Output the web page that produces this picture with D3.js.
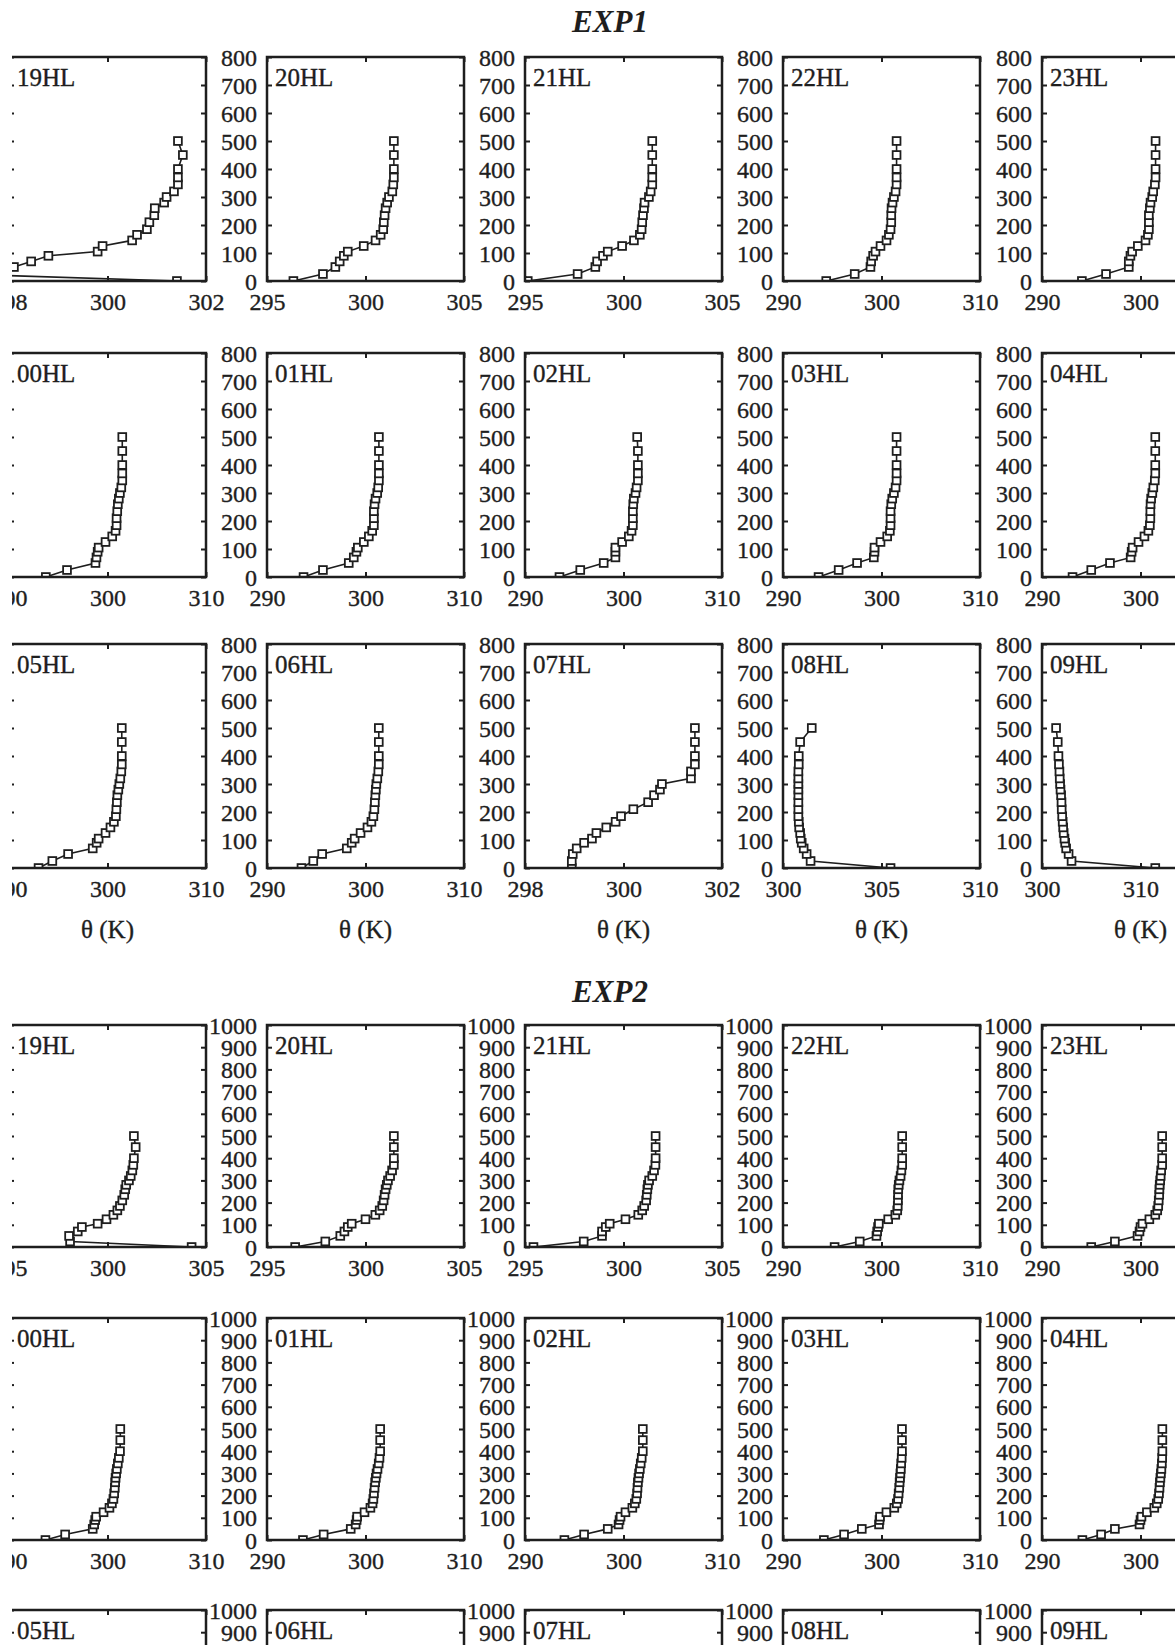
<!DOCTYPE html>
<html>
<head>
<meta charset="utf-8">
<script src="https://cdn.jsdelivr.net/npm/d3@7"></script>
<style>
  body { margin: 0; background: #fff; }
  svg text { font-family: "Liberation Serif", "Times New Roman", serif; fill: #1e1e1e; }
  svg text.lbl { stroke: #1e1e1e; stroke-width: 0.35px; }
</style>
</head>
<body>
<div id="chart"></div>
<script>
// heights (m) of the profile levels, shared by every panel
var levels = [0, 25, 50, 70, 90, 105, 125, 145, 165, 185, 210, 235, 260, 280, 300, 320, 345, 370, 400, 450, 500];

// EXP1 potential temperature profiles (K)
var e1_19HL = [301.41, 297.0, 298.1, 298.45, 298.8, 299.8, 299.9, 300.5, 300.6, 300.8, 300.85, 300.95, 300.96, 301.15, 301.2, 301.35, 301.43, 301.43, 301.43, 301.53, 301.43];
var e1_20HL = [296.34, 297.84, 298.47, 298.69, 298.9, 299.1, 299.91, 300.51, 300.77, 300.9, 300.93, 300.97, 301.02, 301.1, 301.19, 301.36, 301.41, 301.44, 301.44, 301.44, 301.44];
var e1_21HL = [295.14, 297.67, 298.57, 298.66, 298.96, 299.2, 299.93, 300.53, 300.83, 300.92, 300.95, 300.99, 301.04, 301.07, 301.29, 301.38, 301.46, 301.46, 301.46, 301.46, 301.46];
var e1_22HL = [294.39, 297.28, 298.88, 298.95, 299.15, 299.39, 299.9, 300.51, 300.75, 300.92, 300.99, 300.99, 301.02, 301.12, 301.26, 301.43, 301.53, 301.53, 301.53, 301.53, 301.53];
var e1_23HL = [294.05, 296.5, 298.81, 298.81, 298.98, 299.15, 299.73, 300.51, 300.75, 300.85, 300.85, 300.85, 300.95, 301.02, 301.19, 301.29, 301.46, 301.53, 301.53, 301.53, 301.53];
var e1_00HL = [293.74, 295.89, 298.78, 298.88, 299.0, 299.1, 299.8, 300.48, 300.82, 300.92, 300.92, 300.99, 301.05, 301.15, 301.26, 301.4, 301.5, 301.5, 301.5, 301.5, 301.5];
var e1_01HL = [293.71, 295.68, 298.3, 298.81, 299.08, 299.22, 299.83, 300.34, 300.68, 300.85, 300.85, 300.85, 300.92, 301.02, 301.19, 301.29, 301.36, 301.36, 301.36, 301.36, 301.36];
var e1_02HL = [293.5, 295.61, 297.99, 299.18, 299.18, 299.18, 299.86, 300.54, 300.82, 300.95, 300.95, 300.95, 300.99, 301.05, 301.22, 301.33, 301.46, 301.46, 301.46, 301.46, 301.39];
var e1_03HL = [293.61, 295.65, 297.52, 299.22, 299.29, 299.29, 299.9, 300.58, 300.85, 300.92, 300.92, 300.92, 300.99, 301.09, 301.26, 301.43, 301.53, 301.53, 301.53, 301.53, 301.53];
var e1_04HL = [293.1, 295.0, 296.9, 299.0, 299.1, 299.2, 299.8, 300.4, 300.8, 300.95, 301.0, 301.0, 301.02, 301.08, 301.2, 301.3, 301.45, 301.5, 301.5, 301.5, 301.5];
var e1_05HL = [293.0, 294.4, 296.0, 298.5, 298.9, 299.1, 299.8, 300.3, 300.65, 300.85, 300.9, 300.95, 301.0, 301.1, 301.2, 301.3, 301.4, 301.45, 301.45, 301.45, 301.45];
var e1_06HL = [293.5, 294.7, 295.6, 298.1, 298.6, 298.9, 299.5, 300.2, 300.6, 300.8, 300.9, 300.95, 301.0, 301.05, 301.1, 301.2, 301.3, 301.35, 301.35, 301.35, 301.35];
var e1_07HL = [298.95, 298.95, 298.97, 299.05, 299.2, 299.36, 299.45, 299.65, 299.84, 299.95, 300.2, 300.5, 300.62, 300.74, 300.78, 301.37, 301.37, 301.45, 301.45, 301.45, 301.45];
var e1_08HL = [305.46, 301.4, 301.2, 301.05, 300.95, 300.9, 300.87, 300.82, 300.8, 300.78, 300.78, 300.78, 300.78, 300.78, 300.78, 300.78, 300.78, 300.8, 300.8, 300.87, 301.46];
var e1_09HL = [311.5, 303.0, 302.7, 302.45, 302.35, 302.28, 302.2, 302.15, 302.1, 302.05, 302.0, 301.98, 301.94, 301.88, 301.84, 301.8, 301.77, 301.72, 301.67, 301.6, 301.43];

// EXP2 profiles (the last row is cut off by the page, no values are visible)
var e2_19HL = [304.27, 298.1, 298.05, 298.49, 298.7, 299.5, 299.95, 300.3, 300.5, 300.63, 300.75, 300.85, 300.9, 300.95, 301.09, 301.18, 301.26, 301.31, 301.34, 301.43, 301.34];
var e2_20HL = [296.43, 297.96, 298.72, 298.93, 299.1, 299.3, 300.0, 300.5, 300.72, 300.85, 300.92, 300.97, 301.02, 301.08, 301.14, 301.25, 301.35, 301.44, 301.44, 301.44, 301.44];
var e2_21HL = [295.43, 297.98, 298.91, 298.91, 299.1, 299.3, 300.1, 300.75, 300.95, 301.05, 301.15, 301.18, 301.21, 301.24, 301.3, 301.46, 301.55, 301.62, 301.63, 301.63, 301.63];
var e2_22HL = [295.24, 297.79, 299.49, 299.56, 299.65, 299.73, 300.68, 301.4, 301.6, 301.65, 301.67, 301.68, 301.7, 301.75, 301.82, 301.94, 302.02, 302.1, 302.1, 302.1, 302.1];
var e2_23HL = [295.0, 297.4, 299.7, 299.9, 300.0, 300.2, 300.9, 301.5, 301.7, 301.8, 301.85, 301.9, 301.92, 301.95, 302.0, 302.05, 302.1, 302.2, 302.2, 302.2, 302.2];
var e2_00HL = [293.7, 295.7, 298.5, 298.65, 298.75, 298.85, 299.6, 300.2, 300.45, 300.6, 300.68, 300.74, 300.78, 300.82, 300.88, 300.95, 301.05, 301.15, 301.27, 301.3, 301.3];
var e2_01HL = [293.65, 295.75, 298.5, 299.0, 299.1, 299.15, 299.9, 300.5, 300.72, 300.8, 300.86, 300.92, 300.98, 301.05, 301.12, 301.22, 301.34, 301.42, 301.49, 301.49, 301.49];
var e2_02HL = [294.0, 296.0, 298.4, 299.5, 299.6, 299.7, 300.2, 300.9, 301.15, 301.3, 301.38, 301.42, 301.46, 301.52, 301.58, 301.66, 301.75, 301.85, 301.96, 301.96, 301.96];
var e2_03HL = [294.15, 296.2, 298.0, 299.75, 299.8, 299.85, 300.5, 301.3, 301.55, 301.68, 301.74, 301.8, 301.84, 301.88, 301.92, 301.96, 302.0, 302.05, 302.08, 302.08, 302.08];
var e2_04HL = [294.1, 296.0, 297.4, 299.9, 300.0, 300.1, 300.65, 301.4, 301.65, 301.8, 301.88, 301.93, 301.97, 302.02, 302.07, 302.12, 302.17, 302.2, 302.22, 302.22, 302.22];

var hourNames = ["19HL", "20HL", "21HL", "22HL", "23HL",
                 "00HL", "01HL", "02HL", "03HL", "04HL",
                 "05HL", "06HL", "07HL", "08HL", "09HL"];

var exp1Series = [e1_19HL, e1_20HL, e1_21HL, e1_22HL, e1_23HL,
                  e1_00HL, e1_01HL, e1_02HL, e1_03HL, e1_04HL,
                  e1_05HL, e1_06HL, e1_07HL, e1_08HL, e1_09HL];
var exp2Series = [e2_19HL, e2_20HL, e2_21HL, e2_22HL, e2_23HL,
                  e2_00HL, e2_01HL, e2_02HL, e2_03HL, e2_04HL,
                  null, null, null, null, null];

// x-axis ranges (K)
var exp1Domains = [[298, 302], [295, 305], [295, 305], [290, 310], [290, 310],
                   [290, 310], [290, 310], [290, 310], [290, 310], [290, 310],
                   [290, 310], [290, 310], [298, 302], [300, 310], [300, 320]];
var exp2Domains = [[295, 305], [295, 305], [295, 305], [290, 310], [290, 310],
                   [290, 310], [290, 310], [290, 310], [290, 310], [290, 310],
                   [290, 310], [290, 310], [290, 310], [290, 310], [290, 310]];

var exp1YTicks = d3.range(0, 801, 100);
var exp2YTicks = d3.range(0, 1001, 100);
var xAxisTitle = "\u03b8 (K)";

var svgWidth = 1175;
var svgHeight = 1645;
var colLeft = [9, 267, 525, 783, 1042];
var panelW = 197;
var exp1Tops = [57, 353, 644];
var exp2Tops = [1025, 1318, 1610];
var exp1H = 224;
var exp2H = 222;
var ink = "#1e1e1e";

var svg = d3.select("#chart")
  .append("svg")
  .attr("width", svgWidth)
  .attr("height", svgHeight);

svg.append("text")
  .attr("x", 610).attr("y", 32)
  .attr("text-anchor", "middle")
  .style("font-size", "31px").style("font-weight", "bold").style("font-style", "italic")
  .text("EXP1");

svg.append("text")
  .attr("x", 610).attr("y", 1002)
  .attr("text-anchor", "middle")
  .style("font-size", "31px").style("font-weight", "bold").style("font-style", "italic")
  .text("EXP2");

var panelCount = 0;

function drawPanel(col, top, h, name, values, dom, yTicks, withTitle) {
  var id = "clip" + (panelCount++);
  var g = svg.append("g").attr("transform", `translate(${colLeft[col]}, ${top})`);

  var x = d3.scaleLinear().domain(dom).range([0, panelW]);
  var y = d3.scaleLinear().domain([0, yTicks[yTicks.length - 1]]).range([h, 0]);
  var xTicks = [dom[0], (dom[0] + dom[1]) / 2, dom[1]];

  g.append("clipPath").attr("id", id)
    .append("rect").attr("width", panelW).attr("height", h);

  // inward ticks on all four sides, labels on left and bottom
  // (the left labels of the first column fall outside the cropped page)
  g.append("g").attr("transform", `translate(0, ${h})`)
    .call(d3.axisBottom(x).tickValues(xTicks).tickSize(-5).tickPadding(12).tickFormat(d3.format("d")));
  g.append("g").call(d3.axisTop(x).tickValues(xTicks).tickSize(-5).tickFormat(""));
  var leftAx = g.append("g")
    .call(d3.axisLeft(y).tickValues(yTicks).tickSize(-5).tickPadding(10)
      .tickFormat(col === 0 ? "" : d3.format("d")));
  g.append("g").attr("transform", `translate(${panelW}, 0)`)
    .call(d3.axisRight(y).tickValues(yTicks).tickSize(-5).tickFormat(""));

  g.selectAll(".domain").remove();
  g.selectAll(".tick line").attr("stroke", ink).attr("stroke-width", 2);
  g.selectAll(".tick text").attr("fill", ink).attr("class", "lbl").style("font-size", "24px")
    .style("font-family", "'Liberation Serif', 'Times New Roman', serif");
  leftAx.selectAll(".tick text").attr("dy", "0.34em");

  if (values) {
    var pts = levels.map(function(z, i) { return { z: z, t: values[i] }; });
    var plot = g.append("g").attr("clip-path", `url(#${id})`);
    plot.append("path")
      .datum(pts)
      .attr("fill", "none")
      .attr("stroke", ink)
      .attr("stroke-width", 1.6)
      .attr("d", d3.line().x(d => x(d.t)).y(d => y(d.z)));
    plot.selectAll("rect")
      .data(pts)
      .enter()
      .append("rect")
      .attr("x", d => x(d.t) - 3.9)
      .attr("y", d => y(d.z) - 3.9)
      .attr("width", 7.8)
      .attr("height", 7.8)
      .attr("fill", "#fff")
      .attr("stroke", ink)
      .attr("stroke-width", 1.8);
  }

  g.append("rect")
    .attr("width", panelW).attr("height", h)
    .attr("fill", "none").attr("stroke", ink).attr("stroke-width", 2.5);

  g.append("text")
    .attr("class", "lbl")
    .attr("x", 8).attr("y", 29)
    .style("font-size", "25px")
    .text(name);

  if (withTitle) {
    g.append("text")
      .attr("class", "lbl")
      .attr("x", panelW / 2).attr("y", h + 70)
      .attr("text-anchor", "middle")
      .style("font-size", "25px")
      .text(xAxisTitle);
  }
}

hourNames.forEach(function(name, i) {
  var row = Math.floor(i / 5), col = i % 5;
  drawPanel(col, exp1Tops[row], exp1H, name, exp1Series[i], exp1Domains[i], exp1YTicks, row === 2);
  drawPanel(col, exp2Tops[row], exp2H, name, exp2Series[i], exp2Domains[i], exp2YTicks, false);
});

// the scanned figure is cropped just inside the first column
svg.append("rect")
  .attr("x", 0).attr("y", 0)
  .attr("width", 12).attr("height", svgHeight)
  .attr("fill", "#fff");
</script>
</body>
</html>
